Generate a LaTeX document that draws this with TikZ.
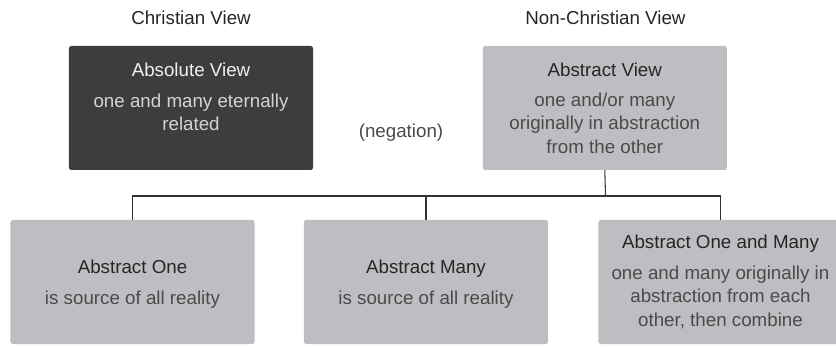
\documentclass[tikz,border=0pt]{standalone}
\usepackage{fontspec}
\setmainfont{Liberation Sans}
\usepackage{xcolor}
\usetikzlibrary{positioning}

\definecolor{darkfill}{HTML}{3D3D3D}
\definecolor{lightfill}{HTML}{BDBEC1}
\definecolor{titleink}{HTML}{262626}
\definecolor{bodyink}{HTML}{4A4A4A}
\definecolor{darktitle}{HTML}{F0F0F0}
\definecolor{darkbody}{HTML}{D4D4D4}
\definecolor{lineink}{HTML}{333333}

\begin{document}
\begin{tikzpicture}[
    x=0.03cm, y=-0.03cm,
    font=\fontsize{16}{20}\selectfont,
    panel/.style={rectangle, rounded corners=2pt, inner sep=0pt, minimum width=7.32cm, minimum height=3.72cm},
    darkpanel/.style={panel, fill=darkfill},
    lightpanel/.style={panel, fill=lightfill},
    heading/.style={text=titleink},
    darklabel/.style={align=center, text=darkbody},
    lightlabel/.style={align=center, text=bodyink},
    link/.style={draw=lineink, line width=0.9pt}
]
    \useasboundingbox (0,0) rectangle (836,347);
    \clip (0,0) rectangle (836,347);

    % top row
    \node[darkpanel] (absolute) at (191,108) {};
    \node[lightpanel, right=5.08cm of absolute] (abstract) {};
    \node[heading] (christian) at (191,18) {Christian View};
    \node[heading] (nonchristian) at (605.5,18) {Non-Christian View};
    \node[text=bodyink] (negation) at (401,133) {(negation)};

    \node[darklabel] (absolutetxt) at (191,97)
        {{\color{darktitle}Absolute View}\\[6pt]one and many eternally\\related};
    \node[lightlabel] (abstracttxt) at (abstract)
        {{\color{titleink}Abstract View}\\[6pt]one and/or many\\originally in abstraction\\from the other};

    % bottom row
    \node[lightpanel] (one) at (132.5,282) {};
    \node[lightpanel, right=1.47cm of one] (many) {};
    \node[lightpanel, right=1.5cm of many] (onemany) {};

    \node[lightlabel] (onetxt) at ([yshift=-2pt]one)
        {{\color{titleink}Abstract One}\\[6pt]is source of all reality};
    \node[lightlabel] (manytxt) at ([yshift=-2pt]many)
        {{\color{titleink}Abstract Many}\\[6pt]is source of all reality};
    \node[lightlabel] (onemanytxt) at (onemany)
        {{\color{titleink}Abstract One and Many}\\[6pt]one and many originally in\\abstraction from each\\other, then combine};

    % tree lines
    \coordinate (fork) at (605.5,196);
    \draw[link] (abstract.south) -- (fork);
    \draw[link] (one.north) |- (fork) -| (onemany.north);
    \draw[link] (many.north) -- (many.north |- fork);
\end{tikzpicture}
\end{document}
